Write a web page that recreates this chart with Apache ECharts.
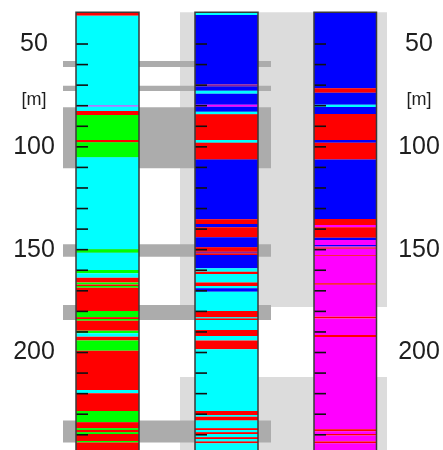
<!DOCTYPE html>
<html>
<head>
<meta charset="utf-8">
<script src="https://cdn.jsdelivr.net/npm/echarts@6/dist/echarts.min.js"></script>
<style>
html,body{margin:0;padding:0;background:#fff;}
#chart{width:443px;height:450px;}
</style>
</head>
<body>
<div id="chart"></div>
<script>
// ---- data (depths in m) ----
const depthLabels = [50, 100, 150, 200];
const unitDepth = 77;
const tickDepths = [50, 60, 70, 80, 90, 100, 110, 120, 130, 140, 150, 160, 170, 180, 190, 200, 210, 220, 230, 240];

// layers: [top, bottom, code]
const well1 = [
  [34.6, 36.2, 'R'], [36.2, 79.8, 'C'], [79.8, 80.5, 'V'], [80.5, 82.6, 'C'], [82.6, 84.5, 'R'],
  [84.5, 96.7, 'G'], [96.7, 97.8, 'R'], [97.8, 105.1, 'G'], [105.1, 149.8, 'C'], [149.8, 151.5, 'G'],
  [151.5, 159.9, 'C'], [159.9, 161.5, 'G'], [161.5, 163.6, 'C'], [163.6, 166.0, 'R'], [166.0, 166.9, 'G'],
  [166.9, 167.7, 'R'], [167.7, 168.5, 'G'], [168.5, 179.8, 'R'], [179.8, 182.9, 'G'], [182.9, 183.7, 'R'],
  [183.7, 184.5, 'G'], [184.5, 189.4, 'R'], [189.4, 190.6, 'G'], [190.6, 192.3, 'C'], [192.3, 194.2, 'R'],
  [194.2, 199.1, 'G'], [199.1, 218.2, 'R'], [218.2, 219.8, 'C'], [219.8, 228.4, 'R'], [228.4, 233.9, 'G'],
  [233.9, 236.8, 'R'], [236.8, 237.7, 'G'], [237.7, 238.8, 'R'], [238.8, 239.6, 'G'], [239.6, 243.0, 'R'],
  [243.0, 243.8, 'G'], [243.8, 248.0, 'R']
];
const well2 = [
  [34.6, 35.9, 'C'], [35.9, 69.6, 'B'], [69.6, 70.6, 'P'], [70.6, 72.7, 'B'], [72.7, 74.2, 'C'],
  [74.2, 79.5, 'B'], [79.5, 80.5, 'M'], [80.5, 82.9, 'B'], [82.9, 84.2, 'C'], [84.2, 96.7, 'R'],
  [96.7, 98.0, 'C'], [98.0, 106.1, 'R'], [106.1, 135.2, 'B'], [135.2, 137.5, 'R'], [137.5, 139.1, 'B'],
  [139.1, 144.0, 'R'], [144.0, 148.8, 'B'], [148.8, 151.0, 'R'], [151.0, 151.8, 'P'], [151.8, 152.6, 'R'],
  [152.6, 159.0, 'B'], [159.0, 160.7, 'C'], [160.7, 161.8, 'R'], [161.8, 166.0, 'C'], [166.0, 167.6, 'R'],
  [167.6, 168.8, 'C'], [168.8, 170.4, 'B'], [170.4, 179.8, 'C'], [179.8, 182.9, 'R'], [182.9, 183.5, 'C'],
  [183.5, 184.2, 'R'], [184.2, 189.0, 'C'], [189.0, 192.0, 'R'], [192.0, 194.2, 'C'], [194.2, 198.4, 'R'],
  [198.4, 228.4, 'C'], [228.4, 230.4, 'R'], [230.4, 231.2, 'C'], [231.2, 233.1, 'R'], [233.1, 236.8, 'C'],
  [236.8, 237.7, 'R'], [237.7, 238.8, 'C'], [238.8, 239.6, 'R'], [239.6, 241.2, 'C'], [241.2, 242.0, 'R'],
  [242.0, 243.3, 'C'], [243.3, 244.1, 'R'], [244.1, 248.0, 'C']
];
const well3 = [
  [34.6, 71.5, 'B'], [71.5, 73.7, 'R'], [73.7, 79.5, 'B'], [79.5, 80.6, 'C'], [80.6, 84.0, 'B'],
  [84.0, 96.7, 'R'], [96.7, 98.0, 'B'], [98.0, 106.1, 'R'], [106.1, 135.1, 'B'], [135.1, 138.0, 'R'],
  [138.0, 139.1, 'M'], [139.1, 144.2, 'R'], [144.2, 145.3, 'B'], [145.3, 147.7, 'M'], [147.7, 148.5, 'B'],
  [148.5, 149.0, 'M'], [149.0, 149.5, 'R'], [149.5, 152.7, 'M'], [152.7, 153.1, 'R'], [153.1, 166.3, 'M'],
  [166.3, 167.0, 'R'], [167.0, 182.6, 'M'], [182.6, 183.5, 'R'], [183.5, 191.5, 'M'], [191.5, 192.4, 'R'],
  [192.4, 237.3, 'M'], [237.3, 238.3, 'R'], [238.3, 239.6, 'M'], [239.6, 240.4, 'R'], [240.4, 243.3, 'M'],
  [243.3, 244.1, 'R'], [244.1, 248.0, 'M']
];
// gray zones: [top, bottom]
const darkBands = [[58.3, 61.2], [70.3, 72.8], [80.8, 110.4], [147.4, 153.4], [176.9, 184.2], [233.1, 243.8]];
const lightZones = [[34.6, 177.9], [211.9, 248.0]];

// ---- layout / style ----
const DEPTH_MIN = 28.6, DEPTH_MAX = 247.4;
const COL_X = [[76, 139], [195, 258], [314, 376.5]];
const DARK_X = [63, 271];
const LIGHT_X = [180, 387];
const COLUMN_TOP = 34.6, COLUMN_BOTTOM = 248;
const LITH = {C: '#00ffff', R: '#ff0000', G: '#00ff00', B: '#0000ff', M: '#ff00ff', V: '#a050ff', P: '#8a1fa0'};
const TICK_LEN = 12;

const wells = [well1, well2, well3];
const layerData = [];
wells.forEach((w, ci) => w.forEach(l => layerData.push({value: [ci, l[0], l[1]], itemStyle: {color: LITH[l[2]]}})));

const zoneData = [];
lightZones.forEach(z => zoneData.push({value: [LIGHT_X[0], LIGHT_X[1], z[0], z[1]], itemStyle: {color: '#dcdcdc'}}));
darkBands.forEach(z => zoneData.push({value: [DARK_X[0], DARK_X[1], z[0], z[1]], itemStyle: {color: '#acacac'}}));

const tickData = [];
COL_X.forEach((c, ci) => tickDepths.forEach(d => tickData.push([ci, d])));

const borderData = COL_X.map((c, ci) => [ci, COLUMN_TOP, COLUMN_BOTTOM]);

function rectFrom(p0, p1) {
  return {x: p0[0], y: p0[1], width: p1[0] - p0[0], height: p1[1] - p0[1]};
}

const labelStyle = {
  fontFamily: 'Liberation Sans, Arial, sans-serif',
  fontSize: 25,
  color: '#1e1e1e',
  align: 'center',
  customValues: depthLabels.concat([unitDepth]),
  formatter: v => (Math.abs(v - unitDepth) < 0.01 ? '{u|[m]}' : String(v)),
  rich: {u: {fontSize: 18, fontFamily: 'Liberation Sans, Arial, sans-serif', color: '#1e1e1e'}}
};

const chart = echarts.init(document.getElementById('chart'), null, {renderer: 'canvas'});
chart.setOption({
  animation: false,
  backgroundColor: '#ffffff',
  grid: {left: 0, right: 0, top: 0, bottom: 0, containLabel: false, outerBoundsMode: 'none'},
  xAxis: {type: 'value', min: 0, max: 443, show: false},
  yAxis: [
    {type: 'value', inverse: true, min: DEPTH_MIN, max: DEPTH_MAX, position: 'left',
     axisLine: {show: false}, axisTick: {show: false}, splitLine: {show: false},
     axisLabel: Object.assign({}, labelStyle, {margin: -34})},
    {type: 'value', inverse: true, min: DEPTH_MIN, max: DEPTH_MAX, position: 'right',
     axisLine: {show: false}, axisTick: {show: false}, splitLine: {show: false},
     axisLabel: Object.assign({}, labelStyle, {margin: -24})}
  ],
  series: [
    {
      type: 'custom', name: 'zones', z: 1, clip: true, silent: true,
      data: zoneData,
      renderItem: (params, api) => ({
        type: 'rect',
        shape: rectFrom(api.coord([api.value(0), api.value(2)]), api.coord([api.value(1), api.value(3)])),
        style: {fill: api.visual('color')}
      })
    },
    {
      type: 'custom', name: 'layers', z: 2, clip: true, silent: true,
      data: layerData,
      renderItem: (params, api) => {
        const c = COL_X[api.value(0)];
        return {
          type: 'rect',
          shape: rectFrom(api.coord([c[0], api.value(1)]), api.coord([c[1], api.value(2)])),
          style: {fill: api.visual('color')}
        };
      }
    },
    {
      type: 'custom', name: 'ticks', z: 3, clip: true, silent: true,
      data: tickData,
      renderItem: (params, api) => {
        const c = COL_X[api.value(0)];
        const p0 = api.coord([c[0], api.value(1)]);
        const p1 = api.coord([c[0] + TICK_LEN, api.value(1)]);
        return {type: 'line', shape: {x1: p0[0], y1: p0[1], x2: p1[0], y2: p1[1]},
                style: {stroke: '#111111', lineWidth: 1.6}};
      }
    },
    {
      type: 'custom', name: 'borders', z: 4, clip: false, silent: true,
      data: borderData,
      renderItem: (params, api) => {
        const c = COL_X[api.value(0)];
        return {
          type: 'rect',
          shape: rectFrom(api.coord([c[0], api.value(1)]), api.coord([c[1], api.value(2)])),
          style: {fill: 'none', stroke: '#3a3a3a', lineWidth: 1.5}
        };
      }
    }
  ]
});
</script>
</body>
</html>
